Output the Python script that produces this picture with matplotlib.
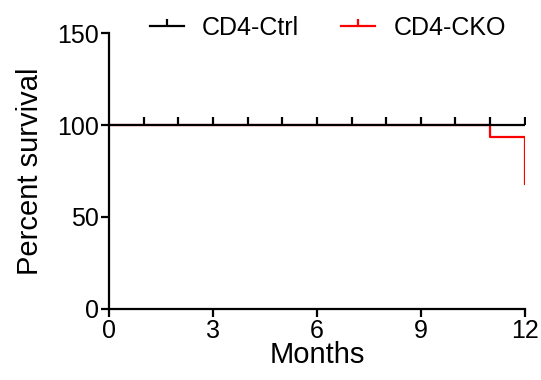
import matplotlib
matplotlib.use("Agg")
import matplotlib.pyplot as plt
from matplotlib.lines import Line2D

plt.rcParams['font.family'] = ['Liberation Sans', 'DejaVu Sans']

# Kaplan-Meier steps
ctrl_t = [0, 12]
ctrl_s = [100, 100]
ctrl_censor_t = [1, 2, 3, 4, 5, 6, 7, 8, 9, 10, 11, 12]

cko_t = [0, 11, 12, 12]
cko_s = [100, 93.3, 93.3, 68]

xticks = [0, 3, 6, 9, 12]
yticks = [0, 50, 100, 150]

fig = plt.figure(figsize=(5.41, 3.80), dpi=100)
ax = fig.add_axes([0.2015, 0.187, 0.7685, 0.726])

ax.step(cko_t, cko_s, where='post', color='#ff0000', lw=1.6, zorder=2)
ax.step(ctrl_t, ctrl_s, where='post', color='black', lw=1.6, zorder=3)
ax.plot(ctrl_censor_t, [100] * len(ctrl_censor_t), ls='none', marker=2,
        ms=6, mew=1.6, color='black', zorder=4)

ax.set_xlim(0, 12)
ax.set_ylim(0, 150)
ax.set_xticks(xticks)
ax.set_yticks(yticks)
ax.spines['top'].set_visible(False)
ax.spines['right'].set_visible(False)
for s in ['left', 'bottom']:
    ax.spines[s].set_linewidth(1.6)
ax.tick_params(width=1.6, length=6, labelsize=18, pad=1)
ax.set_xlabel('Months', fontsize=21, labelpad=-1)
ax.set_ylabel('Percent survival', fontsize=21, labelpad=10)

handles = [
    Line2D([], [], color='black', lw=1.6, marker=2, ms=5, mew=1.6),
    Line2D([], [], color='#ff0000', lw=1.6, marker=2, ms=5, mew=1.6),
]
fig.legend(handles, ['CD4-Ctrl', 'CD4-CKO'], loc='center', ncol=2,
           bbox_to_anchor=(0.606, 0.927), frameon=False, fontsize=18,
           numpoints=1, handlelength=1.36, handletextpad=0.72, columnspacing=1.7)

fig.savefig('out.png', dpi=100)
